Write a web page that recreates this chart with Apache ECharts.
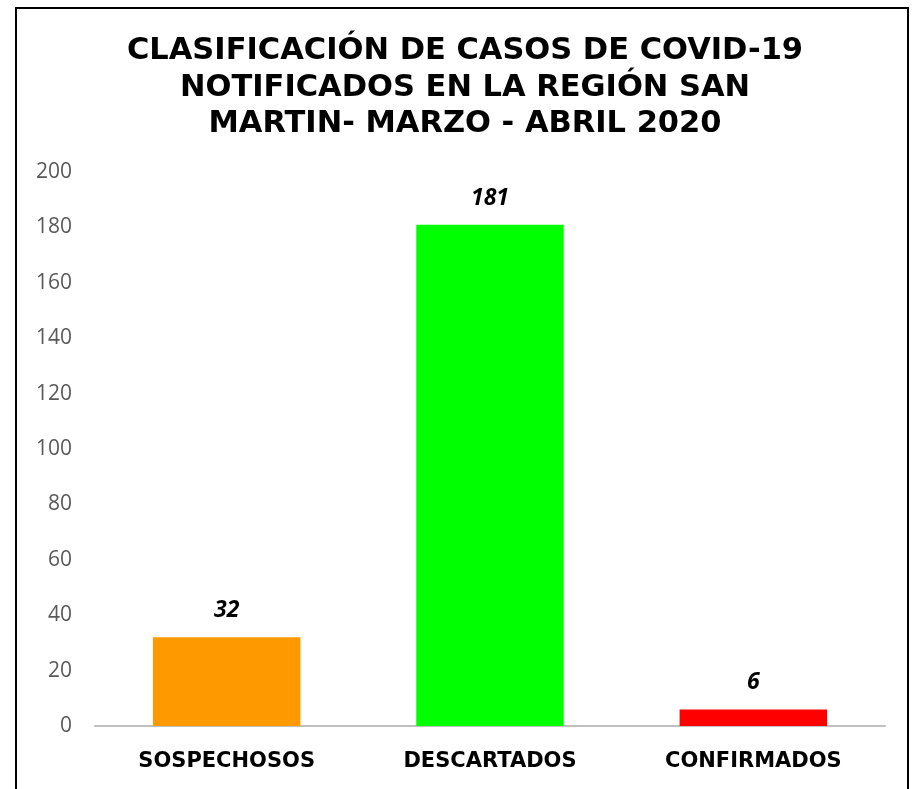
<!DOCTYPE html>
<html><head><meta charset="utf-8">
<script src="https://cdn.jsdelivr.net/npm/echarts@6/dist/echarts.min.js"></script>
<style>html,body{margin:0;padding:0;background:#fff}#c{width:915px;height:789px}</style>
</head><body><div id="c"></div>
<script>
var titleLines = ['CLASIFICACIÓN DE CASOS DE COVID-19', 'NOTIFICADOS EN LA REGIÓN SAN', 'MARTIN- MARZO - ABRIL 2020'];
var categories = ['SOSPECHOSOS', 'DESCARTADOS', 'CONFIRMADOS'];
var values = [32, 181, 6];
var colors = ['#FF9900', '#00FF00', '#FF0000'];

var chart = echarts.init(document.getElementById('c'));
chart.setOption({
  animation: false,
  title: {
    text: titleLines.join('\n'),
    left: 460, top: 28, textAlign: 'center',
    textStyle: {fontFamily: 'DejaVu Sans', fontWeight: 'bold', fontSize: 30.5, lineHeight: 36.5, color: '#000'}
  },
  graphic: [{type: 'rect', shape: {x: 16, y: 8, width: 892, height: 800}, style: {fill: 'none', stroke: '#000', lineWidth: 2}, silent: true}],
  grid: {left: 95, right: 30, top: 172, bottom: 63},
  xAxis: {
    type: 'category', data: categories,
    axisLine: {lineStyle: {color: '#BFBFBF', width: 2}},
    axisTick: {show: false},
    axisLabel: {margin: 25, fontFamily: 'DejaVu Sans', fontWeight: 'bold', fontSize: 21, color: '#000'}
  },
  yAxis: {
    type: 'value', min: 0, max: 200, interval: 20,
    splitLine: {show: false},
    axisLine: {show: false}, axisTick: {show: false},
    axisLabel: {margin: 23, fontFamily: 'Open Sans', fontSize: 21, color: '#595959'}
  },
  series: [{
    type: 'bar', barWidth: '56%',
    data: values.map(function (v, i) { return {value: v, itemStyle: {color: colors[i]}}; }),
    label: {show: true, position: 'top', distance: 15, fontFamily: 'Open Sans', fontWeight: 'bold', fontStyle: 'italic', fontSize: 23, color: '#000'}
  }]
});
</script></body></html>
